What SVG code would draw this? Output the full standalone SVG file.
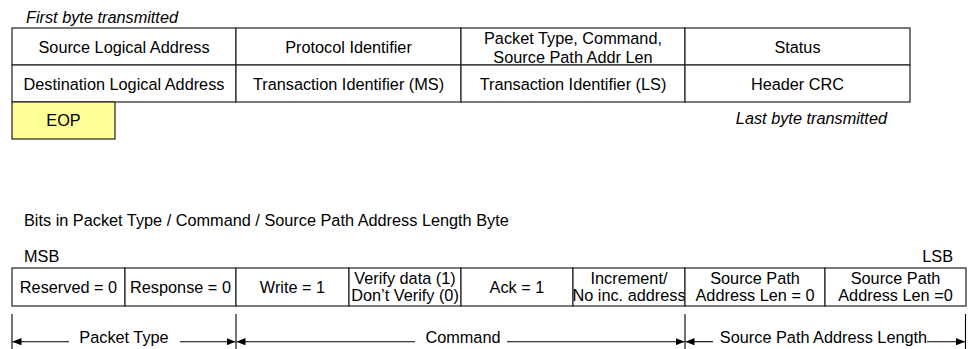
<svg xmlns="http://www.w3.org/2000/svg" width="968" height="349" viewBox="0 0 968 349">
<style>
text{font-family:"Liberation Sans",Arial,sans-serif;font-size:16.3px;fill:#000}
.c{text-anchor:middle}
.i{font-style:italic}
.cell{fill:#fff;stroke:#222;stroke-width:1.2}
.eop{fill:#ffff99;stroke:#222;stroke-width:1.2}
.dim{stroke:#000;stroke-width:1.1;fill:none}
</style>
<defs>
<marker id="ah" viewBox="0 0 10 8" refX="10" refY="4" markerWidth="9" markerHeight="7.5" markerUnits="userSpaceOnUse" orient="auto-start-reverse">
<path d="M0,0 L10,4 L0,8 Z" fill="#000"/>
</marker>
</defs>
<rect width="968" height="349" fill="#fff"/>

<text id="first-byte" class="i" x="26" y="22.7">First byte transmitted</text>

<g id="header-table">
<g id="src-log-addr"><rect class="cell" x="12" y="28" width="224" height="37"/><text class="c" x="124" y="52.5">Source Logical Address</text></g>
<g id="protocol-id"><rect class="cell" x="236" y="28" width="225" height="37"/><text class="c" x="348.5" y="52.5">Protocol Identifier</text></g>
<g id="pkt-type-cmd"><rect class="cell" x="461" y="28" width="224" height="37"/><text class="c" x="573" y="44">Packet Type, Command,</text><text class="c" x="573" y="63">Source Path Addr Len</text></g>
<g id="status"><rect class="cell" x="685" y="28" width="225" height="37"/><text class="c" x="797.5" y="52.5">Status</text></g>
<g id="dest-log-addr"><rect class="cell" x="12" y="65" width="224" height="37"/><text class="c" x="124" y="89.5">Destination Logical Address</text></g>
<g id="trans-id-ms"><rect class="cell" x="236" y="65" width="225" height="37"/><text class="c" x="348.5" y="89.5">Transaction Identifier (MS)</text></g>
<g id="trans-id-ls"><rect class="cell" x="461" y="65" width="224" height="37"/><text class="c" x="573" y="89.5">Transaction Identifier (LS)</text></g>
<g id="header-crc"><rect class="cell" x="685" y="65" width="225" height="37"/><text class="c" x="797.5" y="89.5">Header CRC</text></g>
</g>

<g id="eop"><rect class="eop" x="12" y="102" width="103" height="37"/><text class="c" x="63.5" y="126">EOP</text></g>

<text id="last-byte" class="i" x="887" y="124" text-anchor="end">Last byte transmitted</text>

<text id="bits-title" x="24" y="226">Bits in Packet Type / Command / Source Path Address Length Byte</text>
<text id="msb" x="24" y="261.7">MSB</text>
<text id="lsb" x="953" y="261.7" text-anchor="end">LSB</text>

<g id="bits-table">
<g id="reserved"><rect class="cell" x="12" y="268" width="113" height="38"/><text class="c" x="68.5" y="293">Reserved = 0</text></g>
<g id="response"><rect class="cell" x="125" y="268" width="111" height="38"/><text class="c" x="180.5" y="293">Response = 0</text></g>
<g id="write"><rect class="cell" x="236" y="268" width="113" height="38"/><text class="c" x="292.5" y="293">Write = 1</text></g>
<g id="verify"><rect class="cell" x="349" y="268" width="112" height="38"/><text class="c" x="405" y="284">Verify data (1)</text><text class="c" x="405" y="300.5">Don’t Verify (0)</text></g>
<g id="ack"><rect class="cell" x="461" y="268" width="112" height="38"/><text class="c" x="517" y="293">Ack = 1</text></g>
<g id="increment"><rect class="cell" x="573" y="268" width="112" height="38"/><text class="c" x="629" y="284">Increment/</text><text class="c" x="629" y="300.5">No inc. address</text></g>
<g id="spal-1"><rect class="cell" x="685" y="268" width="140" height="38"/><text class="c" x="755" y="284">Source Path</text><text class="c" x="755" y="300.5">Address Len = 0</text></g>
<g id="spal-0"><rect class="cell" x="825" y="268" width="141" height="38"/><text class="c" x="895.5" y="284">Source Path</text><text class="c" x="895.5" y="300.5">Address Len =0</text></g>
</g>

<g id="connectors">
<line class="dim" x1="12" y1="314" x2="12" y2="349"/>
<line class="dim" x1="236" y1="314" x2="236" y2="349"/>
<line class="dim" x1="685" y1="314" x2="685" y2="349"/>
<line class="dim" x1="965.5" y1="314" x2="965.5" y2="349"/>
<line class="dim" x1="69" y1="341.7" x2="12.5" y2="341.7" marker-end="url(#ah)"/>
<line class="dim" x1="180" y1="341.7" x2="235.5" y2="341.7" marker-end="url(#ah)"/>
<line class="dim" x1="415" y1="341.7" x2="236.5" y2="341.7" marker-end="url(#ah)"/>
<line class="dim" x1="507" y1="341.7" x2="684.5" y2="341.7" marker-end="url(#ah)"/>
<line class="dim" x1="713" y1="341.7" x2="685.5" y2="341.7" marker-end="url(#ah)"/>
<line class="dim" x1="927" y1="341.7" x2="965" y2="341.7" marker-end="url(#ah)"/>
</g>
<text id="lbl-packet-type" class="c" x="124" y="343">Packet Type</text>
<text id="lbl-command" class="c" x="463" y="343">Command</text>
<text id="lbl-spal" class="c" x="823.5" y="343">Source Path Address Length</text>
</svg>
